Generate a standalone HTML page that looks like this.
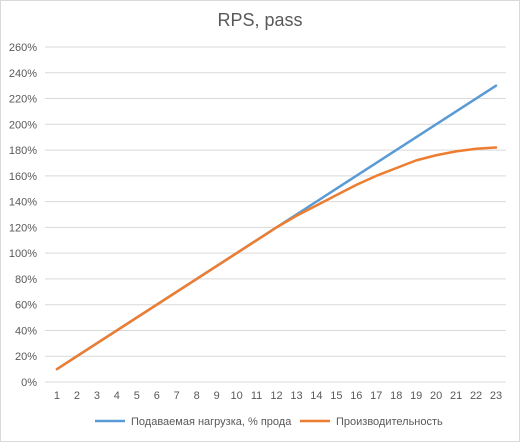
<!DOCTYPE html>
<html><head><meta charset="utf-8"><style>
body{margin:0;background:#fff}
svg{display:block;font-family:"Liberation Sans","DejaVu Sans",sans-serif}
</style></head><body>
<svg id="c" width="520" height="442">
<rect x="0.5" y="0.5" width="519" height="441" fill="#fff" stroke="#d9d9d9"/>
<text x="260" y="26" text-anchor="middle" font-size="18" fill="#595959">RPS, pass</text>
<g id="grid"></g><g id="yt"></g><g id="xt"></g><g id="series"></g>
<g>
<line x1="95" y1="421" x2="125" y2="421" stroke="#5b9bd5" stroke-width="2.5"/>
<text x="131" y="425" font-size="11" fill="#595959">Подаваемая нагрузка, % прода</text>
<line x1="300" y1="421" x2="330" y2="421" stroke="#ed7d31" stroke-width="2.5"/>
<text x="336" y="425" font-size="11" fill="#595959">Производительность</text>
</g>
</svg>
<script>
const categories=[1,2,3,4,5,6,7,8,9,10,11,12,13,14,15,16,17,18,19,20,21,22,23];
const loadValues=[10,20,30,40,50,60,70,80,90,100,110,120,130,140,150,160,170,180,190,200,210,220,230];
const perfValues=[10,20,30,40,50,60,70,80,90,100,110,120,129,137,145,153,160,166,172,176,179,181,182];
const yTicks=[0,20,40,60,80,100,120,140,160,180,200,220,240,260];
const NS="http://www.w3.org/2000/svg";
const x0=47,x1=506,y0=382,y1=47;
const xs=i=>x0+(x1-x0)*(i+0.5)/categories.length;
const ys=v=>y0-(y0-y1)*v/260;
function mk(t,a,p){const e=document.createElementNS(NS,t);for(const k in a)e.setAttribute(k,a[k]);p.appendChild(e);return e;}
const g=document.getElementById('grid'),yt=document.getElementById('yt'),xt=document.getElementById('xt'),s=document.getElementById('series');
yTicks.forEach(v=>{
const l=mk('line',{x1:45,x2:x1,y1:ys(v),y2:ys(v),stroke:'#d9d9d9','stroke-width':1},g);


const t=mk('text',{x:37,y:ys(v)+4,'text-anchor':'end','font-size':11,fill:'#595959'},yt);
t.textContent=v+'%';


});
categories.forEach((c,i)=>{
const t=mk('text',{x:xs(i),y:399,'text-anchor':'middle','font-size':11,fill:'#595959'},xt);
t.textContent=c;


});
function line(vals,col,name){
const p=mk('polyline',{points:vals.map((v,i)=>xs(i)+','+ys(v)).join(' '),fill:'none',stroke:col,'stroke-width':2.5,'stroke-linejoin':'round','stroke-linecap':'round'},s);


}
line(loadValues,'#5b9bd5','series-load');
line(perfValues,'#ed7d31','series-performance');
</script>
</body></html>
